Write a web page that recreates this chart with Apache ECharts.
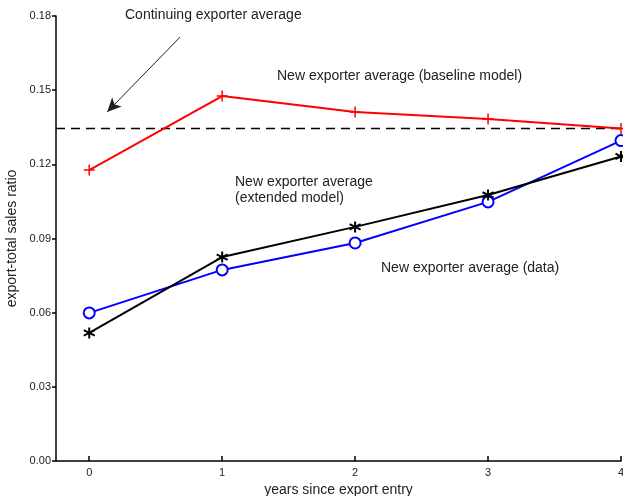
<!DOCTYPE html>
<html>
<head>
<meta charset="utf-8">
<style>
    html, body { margin: 0; padding: 0; overflow: hidden; background: #fff; }
</style>
</head>
<body>
<div id="chart" style="width:623px; height:496px;"></div>
<script src="https://cdn.jsdelivr.net/npm/echarts@6/dist/echarts.min.js"></script>
<script>
    var years = [0, 1, 2, 3, 4];
    var baseline = [0.1177, 0.1476, 0.1412, 0.1383, 0.1345];
    var extended = [0.0518, 0.0825, 0.0947, 0.1076, 0.1232];
    var dataAvg = [0.0599, 0.0773, 0.0882, 0.1048, 0.1296];
    var continuing = 0.1345;
    var xRange = [-0.25, 4];

    var FONT = 'Liberation Sans';
    var plus = 'path://M0,5 L10,5 M5,0 L5,10';
    var star = 'path://M5,0 L5,10 M0.7,2.5 L9.3,7.5 M0.7,7.5 L9.3,2.5';

    function pairs(vals) {
        return years.map(function (x, i) { return [x, vals[i]]; });
    }

    var chart = echarts.init(document.getElementById('chart'), null, {renderer: 'canvas'});
    chart.setOption({
        animation: false,
        grid: {left: 56, right: 2, top: 16, bottom: 35, outerBoundsMode: 'none'},
        xAxis: {
            type: 'value', min: xRange[0], max: xRange[1],
            name: 'years since export entry', nameLocation: 'middle', nameGap: 20,
            nameTextStyle: {fontFamily: FONT, fontSize: 14, color: '#222', verticalAlign: 'top'},
            axisLine: {onZero: false, lineStyle: {color: '#000', width: 1.5}},
            axisTick: {inside: true, length: 5, customValues: years, lineStyle: {color: '#000', width: 1.5}},
            axisLabel: {customValues: years, fontFamily: FONT, fontSize: 11, color: '#222', margin: 6},
            splitLine: {show: false}
        },
        yAxis: {
            type: 'value', min: 0, max: 0.18, interval: 0.03,
            name: 'export-total sales ratio', nameLocation: 'middle', nameGap: 36,
            nameTextStyle: {fontFamily: FONT, fontSize: 14, color: '#222'},
            axisLine: {show: true, onZero: false, lineStyle: {color: '#000', width: 1.5}},
            axisTick: {show: true, length: 4, lineStyle: {color: '#000', width: 1.5}},
            axisLabel: {fontFamily: FONT, fontSize: 11, color: '#222', margin: 5,
                formatter: function (v) { return v.toFixed(2); }},
            splitLine: {show: false}
        },
        series: [
            {
                type: 'line', data: [[xRange[0], continuing], [xRange[1], continuing]],
                symbol: 'none', silent: true,
                lineStyle: {color: '#000', type: [9, 6], width: 1.5},
                z: 2
            },
            {
                type: 'line', data: pairs(baseline), symbol: plus, symbolSize: 11,
                lineStyle: {color: '#ff0000', width: 2},
                itemStyle: {color: '#ff0000', borderColor: '#ff0000', borderWidth: 1.5},
                z: 3
            },
            {
                type: 'line', data: pairs(dataAvg), symbol: 'emptyCircle', symbolSize: 11,
                lineStyle: {color: '#0000ff', width: 2},
                itemStyle: {color: '#0000ff', borderColor: '#0000ff', borderWidth: 2},
                z: 4
            },
            {
                type: 'line', data: pairs(extended), symbol: star, symbolSize: 11,
                lineStyle: {color: '#000', width: 2},
                itemStyle: {color: '#000', borderColor: '#000', borderWidth: 2},
                markLine: {
                    silent: true, label: {show: false},
                    symbol: ['none', 'arrow'], symbolSize: [10, 14],
                    lineStyle: {color: '#222', type: 'solid', width: 1},
                    data: [[{coord: [0.684, 0.1715]}, {coord: [0.135, 0.1412]}]]
                },
                z: 5
            }
        ],
        graphic: [
            {type: 'text', left: 125, top: 8, style: {text: 'Continuing exporter average', font: '14px ' + FONT, fill: '#222'}},
            {type: 'text', left: 277, top: 69, style: {text: 'New exporter average (baseline model)', font: '14px ' + FONT, fill: '#222'}},
            {type: 'text', left: 235, top: 174, style: {text: 'New exporter average\n(extended model)', font: '14px ' + FONT, lineHeight: 16, fill: '#222'}},
            {type: 'text', left: 381, top: 261, style: {text: 'New exporter average (data)', font: '14px ' + FONT, fill: '#222'}}
        ]
    });
</script>
</body>
</html>
